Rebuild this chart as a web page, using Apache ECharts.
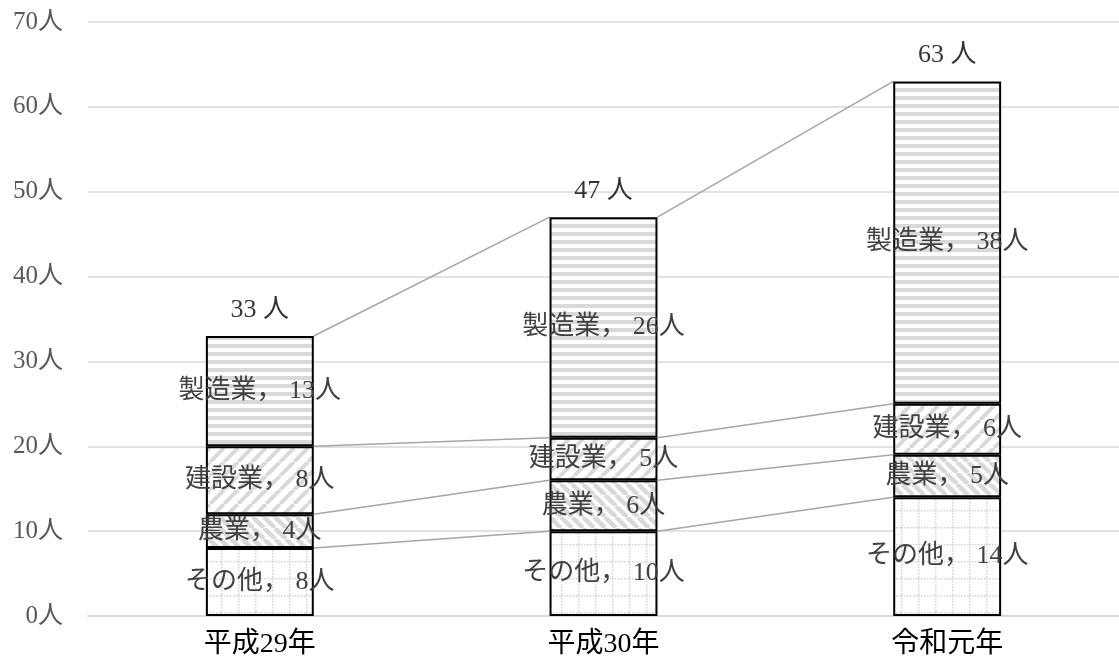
<!DOCTYPE html>
<html>
<head>
<meta http-equiv="Content-Type" content="text/html;charset=utf-8" />
<title>業種別人数</title>
<script src="https://cdnjs.cloudflare.com/ajax/libs/echarts/6.0.0/echarts.min.js"></script>
<style>
  html, body { margin: 0; padding: 0; background: #fff; }
  #chart { width: 1119px; height: 666px; }
</style>
</head>
<body>
<div id="chart"></div>
<script>
// データ
var categories = ['平成29年', '平成30年', '令和元年'];
var seriesNames = ['その他', '農業', '建設業', '製造業'];
var sonota = [8, 10, 14];
var nogyo = [4, 6, 5];
var kensetsu = [8, 5, 6];
var seizo = [13, 26, 38];
var totals = [33, 47, 63];
var yTicks = [0, 10, 20, 30, 40, 50, 60, 70];

var fuente = "'Liberation Serif', 'Noto Sans CJK JP', serif";
var anchoBarra = 0.314;

// パターン (canvas)
function lienzo(w, h, dibujar) {
  var c = document.createElement('canvas');
  c.width = w; c.height = h;
  var ctx = c.getContext('2d');
  ctx.fillStyle = '#ffffff';
  ctx.fillRect(0, 0, w, h);
  dibujar(ctx, w, h);
  return c;
}
var patronHoriz = lienzo(8, 8, function (ctx) {
  ctx.fillStyle = '#d9d9d9';
  ctx.fillRect(0, 0, 8, 4);
});
function diagonal(size, ancho, sube) {
  return lienzo(size, size, function (ctx, w, h) {
    ctx.strokeStyle = '#d9d9d9';
    ctx.lineWidth = ancho;
    ctx.beginPath();
    for (var k = -1; k <= 1; k++) {
      if (sube) { ctx.moveTo(k * w, h); ctx.lineTo(k * w + w, 0); }
      else { ctx.moveTo(k * w, 0); ctx.lineTo(k * w + w, h); }
    }
    ctx.stroke();
  });
}
var patronKensetsu = diagonal(14, 4, true);
var patronNogyo = diagonal(11, 4.5, false);
var patronPuntos = lienzo(17, 17, function (ctx) {
  ctx.fillStyle = '#d4d4d4';
  for (var i = 0; i < 17; i += 3) {
    ctx.fillRect(i, 0, 1.5, 1.5);
    ctx.fillRect(0, i, 1.5, 1.5);
  }
});
var patrones = [patronPuntos, patronNogyo, patronKensetsu, patronHoriz];
var valores = [sonota, nogyo, kensetsu, seizo];

// 区分線データ
var acumulados = categories.map(function (c, i) {
  var s = 0, r = [];
  valores.forEach(function (v) { s += v[i]; r.push(s); });
  return r;
});
var lineas = [];
for (var i = 0; i < categories.length - 1; i++) {
  for (var k = 0; k < valores.length; k++) {
    lineas.push([i, acumulados[i][k], acumulados[i + 1][k]]);
  }
}

var series = valores.map(function (v, idx) {
  return {
    name: seriesNames[idx],
    type: 'bar',
    stack: 'total',
    barWidth: (anchoBarra * 100) + '%',
    data: v,
    itemStyle: {
      color: { image: patrones[idx], repeat: 'repeat' },
      borderColor: '#000',
      borderWidth: 2
    },
    label: {
      show: true,
      position: 'inside',
      color: '#404040',
      fontSize: 26,
      fontFamily: fuente,
      formatter: function (p) { return p.seriesName + '， ' + p.value + '人'; }
    },
    z: 3
  };
});

series.push({
  type: 'custom',
  data: lineas,
  z: 2,
  silent: true,
  renderItem: function (params, api) {
    var p1 = api.coord([api.value(0), api.value(1)]);
    var p2 = api.coord([api.value(0) + 1, api.value(2)]);
    var bw = api.size([1, 0])[0] * anchoBarra;
    return {
      type: 'line',
      shape: { x1: p1[0] + bw / 2, y1: p1[1], x2: p2[0] - bw / 2, y2: p2[1] },
      style: { stroke: '#a6a6a6', lineWidth: 1.5 }
    };
  }
});

series.push({
  type: 'scatter',
  data: totals,
  symbolSize: 0,
  silent: true,
  label: {
    show: true,
    position: 'top',
    distance: 13,
    color: '#000',
    fontSize: 26,
    fontFamily: fuente,
    formatter: function (p) { return p.value + ' 人'; }
  }
});

var option = {
  animation: false,
  grid: { left: 88, right: 0, top: 22, bottom: 50, containLabel: false },
  xAxis: {
    type: 'category',
    data: categories,
    axisTick: { show: false },
    axisLine: { lineStyle: { color: '#d9d9d9', width: 2 } },
    axisLabel: { color: '#000', fontSize: 28, fontFamily: fuente, margin: 15 }
  },
  yAxis: {
    type: 'value',
    min: yTicks[0],
    max: yTicks[yTicks.length - 1],
    interval: 10,
    axisLine: { show: false },
    axisTick: { show: false },
    splitLine: { lineStyle: { color: '#d9d9d9', width: 1.5 } },
    axisLabel: { color: '#595959', fontSize: 25, fontFamily: fuente, margin: 25, formatter: '{value}人' }
  },
  series: series
};

var grafico = echarts.init(document.getElementById('chart'));
grafico.setOption(option);
</script>
</body>
</html>
